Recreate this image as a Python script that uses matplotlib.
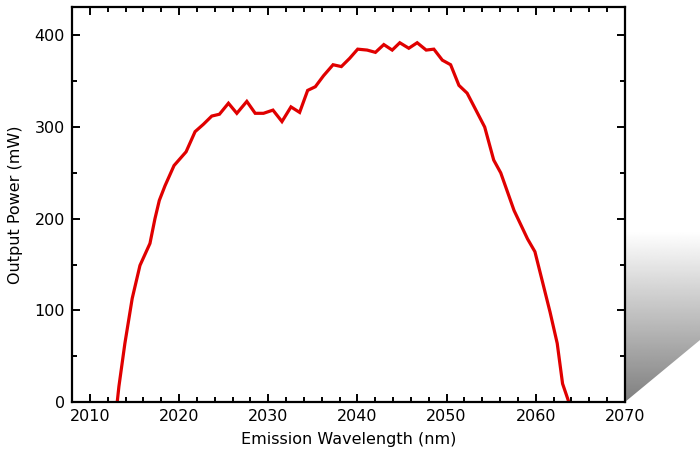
import numpy as np
import matplotlib
matplotlib.use("Agg")
import matplotlib.pyplot as plt
from matplotlib.patches import Polygon
from matplotlib.ticker import MultipleLocator

# emission spectrum
wavelength = [2013.07, 2013.26, 2013.93, 2014.75, 2015.62, 2016.74, 2017.3, 2017.79,
              2018.43, 2019.44, 2020.79, 2021.8, 2022.73, 2023.67, 2024.53, 2025.54,
              2026.48, 2027.6, 2028.54, 2029.47, 2030.53, 2031.54, 2032.55, 2033.52,
              2034.42, 2035.28, 2036.2, 2037.27, 2038.2, 2039.13, 2040.03, 2041.09,
              2042.02, 2042.96, 2043.9, 2044.75, 2045.76, 2046.7, 2047.71, 2048.57,
              2049.52, 2050.45, 2051.38, 2052.3, 2053.26, 2054.27, 2055.28, 2056.07,
              2057.56, 2059.07, 2059.9, 2060.7, 2061.6, 2062.4, 2063.0, 2063.7]
power = [0, 17, 64, 113, 149, 173, 200, 220,
         236, 258, 273, 295, 303, 312, 314, 326,
         315, 328, 315, 315, 318.5, 306, 322, 316,
         340, 344, 356, 368, 366, 375, 385, 384,
         381.5, 390, 384, 392, 386, 392, 384, 385,
         373, 368, 345.5, 337, 319, 300, 264, 250,
         209, 178, 164, 133, 98, 64, 20, 0]

W, H = 700, 461
fig = plt.figure(figsize=(W / 100, H / 100), dpi=100)

# page-curl shading in the lower right corner
bg = fig.add_axes([0, 0, 1, 1], zorder=0)
bg.set_xlim(0, W)
bg.set_ylim(H, 0)
bg.axis("off")
grad = np.linspace(1.0, 0.5, 200).reshape(-1, 1)
grad = np.repeat(grad, 2, axis=1)
im = bg.imshow(grad, cmap="gray", vmin=0, vmax=1, extent=(625, 700, 402, 232),
               aspect="auto")
corner = Polygon([(625, 402), (625, 232), (700, 232), (700, 340)],
                 closed=True, transform=bg.transData, facecolor="none", edgecolor="none")
bg.add_patch(corner)
im.set_clip_path(corner)

ax = fig.add_axes([72 / W, 1 - 402 / H, (625 - 72) / W, (402 - 7) / H], zorder=1)
ax.plot(wavelength, power, color="#e00000", lw=2.3, solid_joinstyle="miter")

ax.set_xlim(2008, 2070)
ax.set_ylim(0, 431)
ax.xaxis.set_major_locator(MultipleLocator(10))
ax.xaxis.set_minor_locator(MultipleLocator(2))
ax.yaxis.set_major_locator(MultipleLocator(100))
ax.yaxis.set_minor_locator(MultipleLocator(50))

ax.tick_params(which="both", direction="in", top=True, right=True, width=1.4,
               labelsize=11.5, colors="black")
ax.tick_params(which="major", length=6, pad=5)
ax.tick_params(which="minor", length=3.5)
for s in ax.spines.values():
    s.set_linewidth(1.6)

ax.set_xlabel("Emission Wavelength (nm)", fontsize=11.5, labelpad=6)
ax.set_ylabel("Output Power (mW)", fontsize=11.5, labelpad=8)

fig.savefig("out.png", dpi=100)
